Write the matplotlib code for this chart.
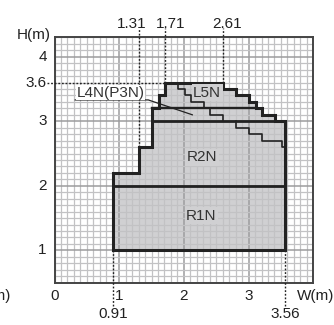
import numpy as np
import matplotlib
matplotlib.use("Agg")
import matplotlib.pyplot as plt
from matplotlib.ticker import MultipleLocator

plt.rcParams['font.family'] = ['Liberation Sans', 'DejaVu Sans']

# outline of the whole usable area (W, H in m)
outline_w = [0.91, 0.91, 1.31, 1.31, 1.51, 1.51, 1.61, 1.61, 1.71, 1.71, 2.61, 2.61, 2.81, 2.81,
             3.01, 3.01, 3.11, 3.11, 3.21, 3.21, 3.41, 3.41, 3.56, 3.56]
outline_h = [1.0, 2.2, 2.2, 2.6, 2.6, 3.2, 3.2, 3.4, 3.4, 3.6, 3.6, 3.5, 3.5, 3.4,
             3.4, 3.3, 3.3, 3.2, 3.2, 3.1, 3.1, 3.0, 3.0, 1.0]

# separators between zones: (w_from, w_to, h)
separators = [(0.91, 3.56, 2.0), (1.51, 3.56, 3.0), (1.51, 3.11, 3.2)]

# inner stepped limits
l5n_w = [1.91, 1.91, 2.01, 2.01, 2.11, 2.11, 2.31, 2.31]
l5n_h = [3.6, 3.5, 3.5, 3.4, 3.4, 3.3, 3.3, 3.2]
l4n_w = [2.41, 2.41, 2.61, 2.61]
l4n_h = [3.2, 3.1, 3.1, 3.0]
r2n_w = [2.81, 2.81, 3.01, 3.01, 3.21, 3.21, 3.51, 3.51, 3.56]
r2n_h = [3.0, 2.9, 2.9, 2.8, 2.8, 2.7, 2.7, 2.6, 2.6]

# zone labels
zone_names = ["R1N", "R2N", "L5N"]
zone_w = [2.27, 2.28, 2.36]
zone_h = [1.54, 2.44, 3.44]

# marked dimensions
top_marks = [1.31, 1.71, 2.61]
top_marks_from = [2.6, 3.6, 3.6]
top_label_w = [1.20, 1.80, 2.67]
bottom_marks = [0.91, 3.56]

fill_c = '#d0d0d2'
ink = '#222222'
fs = 11

fig = plt.figure(figsize=(3.34, 3.25), dpi=100)
ax = fig.add_axes([54.5 / 334, 42.3 / 325, 258.8 / 334, 245.4 / 325])
ax.set_xlim(0, 4)
ax.set_ylim(0.5, 4.3)

ax.xaxis.set_minor_locator(MultipleLocator(0.1))
ax.yaxis.set_minor_locator(MultipleLocator(0.1))
ax.set_xticks([1, 2, 3])
ax.set_yticks([1, 2, 3, 4])
ax.set_xticklabels([])
ax.set_yticklabels([])
ax.tick_params(which='both', length=0)
ax.grid(which='minor', color='#c2c2c4', lw=0.9)
ax.grid(which='major', color='#9c9c9e', lw=1.1)
for s in ax.spines.values():
    s.set_color('#444444')
    s.set_linewidth(1.4)

ax.fill(outline_w, outline_h, color=fill_c, zorder=1, lw=0)
ax.plot(outline_w + outline_w[:1], outline_h + outline_h[:1], color=ink, lw=2.2,
        solid_joinstyle='miter', zorder=4)
for w0, w1, h in separators:
    ax.plot([w0, w1], [h, h], color=ink, lw=2.0 if h < 3.1 else 1.7, zorder=4)
for ws, hs in [(l5n_w, l5n_h), (l4n_w, l4n_h), (r2n_w, r2n_h)]:
    ax.plot(ws, hs, color=ink, lw=1.2, zorder=4)

for name, w, h in zip(zone_names, zone_w, zone_h):
    ax.text(w, h, name, ha='center', va='center', fontsize=fs, color='#333333', zorder=5,
            bbox=dict(boxstyle='square,pad=0.1', fc=fill_c, ec='none'))

ax.text(0.87, 3.44, "L4N(P3N)", ha='center', va='center', fontsize=fs, color='#333333', zorder=5,
        bbox=dict(boxstyle='square,pad=0.04', fc='white', ec='none'))
ax.plot([0.32, 1.45, 2.13], [3.33, 3.33, 3.10], color=ink, lw=0.9, zorder=4, clip_on=False)

dots = (0, (1.3, 1.3))
for m, m0, lw_ in zip(top_marks, top_marks_from, top_label_w):
    ax.plot([m, m], [m0, 4.45], color=ink, lw=1.0, ls=dots, clip_on=False, zorder=4)
    ax.text(lw_, 4.51, f"{m:.2f}", ha='center', va='center', fontsize=fs, color='#222222')
ax.plot([-0.11, 1.71], [3.6, 3.6], color=ink, lw=1.0, ls=dots, clip_on=False, zorder=4)
for m in bottom_marks:
    ax.plot([m, m], [1.0, 0.14], color=ink, lw=1.0, ls=dots, clip_on=False, zorder=4)
    ax.text(m, 0.01, f"{m:.2f}", ha='center', va='center', fontsize=fs, color='#222222')

for v in [1, 2, 3, 4]:
    ax.text(-0.12, v, str(v), ha='right', va='center', fontsize=fs, color='#222222')
ax.text(-0.12, 3.6, "3.6", ha='right', va='center', fontsize=fs, color='#222222')
for v in [0, 1, 2, 3]:
    ax.text(v, 0.29, str(v), ha='center', va='center', fontsize=fs, color='#222222')
ax.text(3.75, 0.29, "W(m)", ha='left', va='center', fontsize=fs, color='#222222')
ax.text(-0.06, 4.33, "H(m)", ha='right', va='center', fontsize=fs, color='#222222')
ax.text(-0.67, 0.29, "W(m)", ha='right', va='center', fontsize=fs, color='#222222')

fig.savefig("out.png", dpi=100)
